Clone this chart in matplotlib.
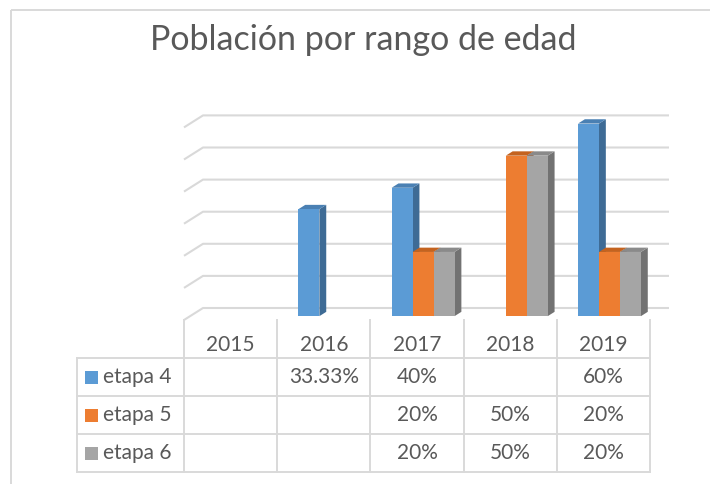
import numpy as np
import matplotlib
matplotlib.use('Agg')
import matplotlib.pyplot as plt
from matplotlib.patches import Polygon, Rectangle

# chart data
years = ['2015', '2016', '2017', '2018', '2019']
series_names = ['etapa 4', 'etapa 5', 'etapa 6']
etapa_4 = [np.nan, 33.33, 40, np.nan, 60]
etapa_5 = [np.nan, np.nan, 20, 50, 20]
etapa_6 = [np.nan, np.nan, 20, 50, 20]
grid_values = [0, 10, 20, 30, 40, 50, 60]

colors = ['#5B9BD5', '#ED7D31', '#A5A5A5']
side_colors = ['#3E6B95', '#AE5620', '#727272']
top_colors = ['#4A80B3', '#C4631F', '#8A8A8A']
text_color = '#595959'
line_color = '#D9D9D9'

plt.rcParams['font.family'] = ['Lato', 'DejaVu Sans']

W, H = 710, 484
fig = plt.figure(figsize=(W / 100, H / 100), dpi=100)

# overlay in pixel units for frame, title and table
ax_t = fig.add_axes([0, 0, 1, 1])
ax_t.set_xlim(0, W)
ax_t.set_ylim(H, 0)
ax_t.axis('off')

# 3D-looking column area: x in categories, y in percent
cat_px = 93.2
pct_px = 3.21
x0_px, floor_px = 184, 320
left_px, right_px, top_px, bot_px = 77, 700, 100, 323
ax = fig.add_axes([left_px / W, 1 - bot_px / H,
                   (right_px - left_px) / W, (bot_px - top_px) / H])
ax.set_xlim((left_px - x0_px) / cat_px, (right_px - x0_px) / cat_px)
ax.set_ylim((floor_px - bot_px) / pct_px, (floor_px - top_px) / pct_px)
ax.axis('off')

dx = 19 / cat_px
dy = 12 / pct_px
n = len(years)

for g in grid_values:
    ax.plot([0, dx, n + dx], [g, g + dy, g + dy], color=line_color,
            lw=1.5, solid_capstyle='butt', zorder=1)

w = 0.225
f0, f1 = 0.32, 0.68
series = [etapa_4, etapa_5, etapa_6]
for i in range(n):
    for s, vals in enumerate(series):
        v = vals[i]
        if np.isnan(v):
            continue
        xa = i + 0.5 - 1.5 * w + s * w + f0 * dx
        xb = xa + w
        base = f0 * dy
        top = base + v
        ddx, ddy = (f1 - f0) * dx, (f1 - f0) * dy
        z = 2 + i * 3 + s
        ax.add_patch(Polygon([(xb, base), (xb + ddx, base + ddy),
                              (xb + ddx, top + ddy), (xb, top)],
                             closed=True, fc=side_colors[s], ec='none', zorder=z))
        ax.add_patch(Polygon([(xa, top), (xb, top), (xb + ddx, top + ddy),
                              (xa + ddx, top + ddy)],
                             closed=True, fc=top_colors[s], ec='none', zorder=z))
        ax.add_patch(Rectangle((xa, base), w, v, fc=colors[s], ec='none',
                               zorder=z))

# table under the chart
to_px = lambda c: ax_t.transData.inverted().transform(
    ax.transData.transform((c, 0)))[0]
col_edges = [to_px(c) for c in range(n + 1)]
row_lines = [358, 396, 434, 472]
tbl_left = 77

for xe in col_edges:
    ax_t.plot([xe, xe], [floor_px, row_lines[-1]], color=line_color, lw=1.4)
ax_t.plot([tbl_left, tbl_left], [row_lines[0], row_lines[-1]],
          color=line_color, lw=1.4)
for yl in row_lines:
    ax_t.plot([tbl_left, col_edges[-1]], [yl, yl], color=line_color, lw=1.4)

fs = 15
for i, yr in enumerate(years):
    xc = (col_edges[i] + col_edges[i + 1]) / 2
    ax_t.text(xc, 351, yr, ha='center', va='baseline', fontsize=fs,
              color=text_color)

for r, (name, vals) in enumerate(zip(series_names, series)):
    yb = 383 + 38 * r
    yc = (row_lines[r] + row_lines[r + 1]) / 2
    ax_t.add_patch(Rectangle((85, yc - 6.5), 13, 13, fc=colors[r], ec='none'))
    ax_t.text(103, yb, name, ha='left', va='baseline', fontsize=fs,
              color=text_color)
    for i, v in enumerate(vals):
        if np.isnan(v):
            continue
        xc = (col_edges[i] + col_edges[i + 1]) / 2
        ax_t.text(xc, yb, '{:g}%'.format(v), ha='center', va='baseline',
                  fontsize=fs, color=text_color)

# title and chart frame
ax_t.text(363, 50, 'Población por rango de edad', ha='center', va='baseline',
          fontsize=24.5, color=text_color)
ax_t.add_patch(Rectangle((11, 10), 720, 500, fc='none', ec=line_color, lw=1.4))

fig.savefig('out.png', dpi=100)
